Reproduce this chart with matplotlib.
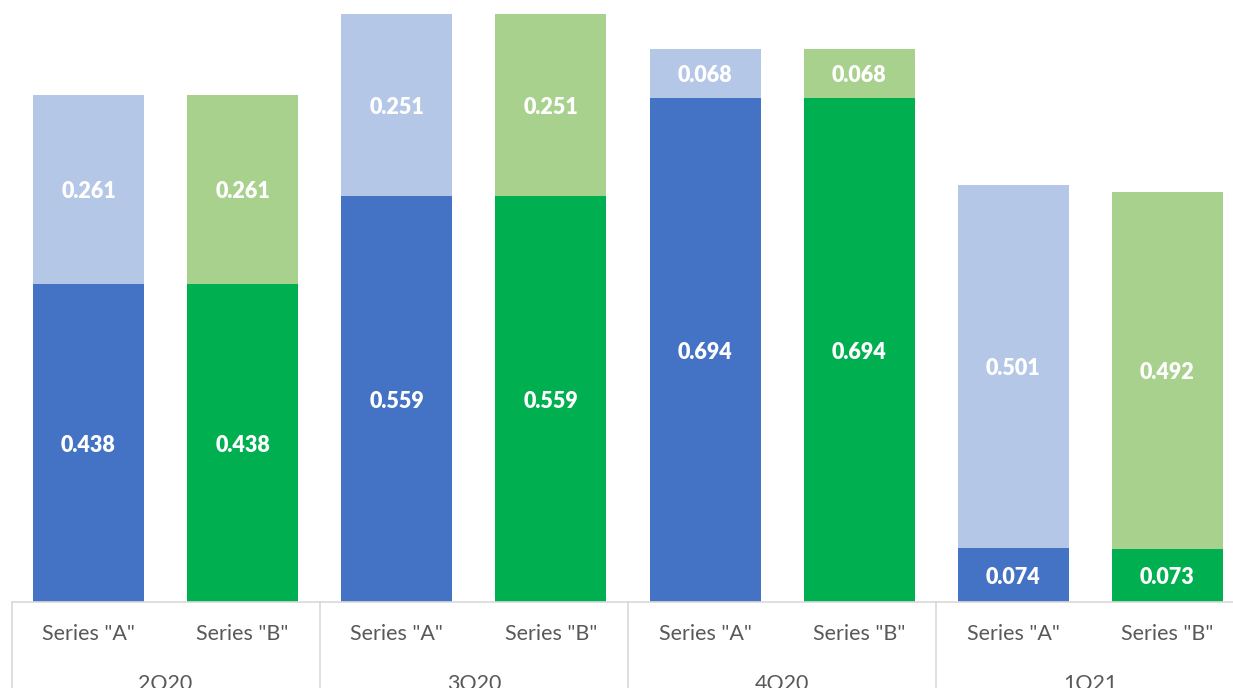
import matplotlib.pyplot as plt
import matplotlib.transforms as mtransforms

plt.rcParams["font.family"] = ["Lato", "DejaVu Sans"]

quarters = ["2Q20", "3Q20", "4Q20", "1Q21"]
series = ['Series "A"', 'Series "B"']
base_a = [0.438, 0.559, 0.694, 0.074]
top_a = [0.261, 0.251, 0.068, 0.501]
base_b = [0.438, 0.559, 0.694, 0.073]
top_b = [0.261, 0.251, 0.068, 0.492]

DARK = {"A": "#4472C4", "B": "#00B050"}
LIGHT = {"A": "#B4C7E7", "B": "#A9D18E"}
AXIS_GRAY = "#D9D9D9"
TEXT_GRAY = "#595959"

W, H = 1233, 688
fig = plt.figure(figsize=(W / 100, H / 100), dpi=100)
ax_left = 11.5 / W
ax_bottom = (H - 602) / H
ax = fig.add_axes([ax_left, ax_bottom, 1 - ax_left, 602 / H])

step = 154.14
ax.set_xlim(-0.5, 7.5 - 11.5 / step)
ax.set_ylim(0, 602 / 726)

width = 0.72
for qi in range(len(quarters)):
    for si, (key, base, top) in enumerate((("A", base_a, top_a), ("B", base_b, top_b))):
        x = qi * 2 + si
        b, t = base[qi], top[qi]
        ax.bar(x, b, width, color=DARK[key], linewidth=0)
        ax.bar(x, t, width, bottom=b, color=LIGHT[key], linewidth=0)
        for y, v in ((b / 2, b), (b + t / 2, t)):
            ax.text(x, y, f"{v:.3f}", ha="center", va="center_baseline",
                    color="white", fontsize=15.5, fontweight="heavy")

for s in ax.spines.values():
    s.set_visible(False)
ax.set_xticks([])
ax.set_yticks([])

trans = mtransforms.blended_transform_factory(ax.transData, ax.transAxes)
ax.plot([-0.5, 8], [0, 0], color=AXIS_GRAY, lw=1.2, transform=trans, clip_on=False)
for k in range(5):
    xb = -0.5 + 2 * k
    ax.plot([xb, xb], [0, -0.2], color=AXIS_GRAY, lw=1.2,
            transform=trans, clip_on=False)

for qi, q in enumerate(quarters):
    for si, s in enumerate(series):
        ax.text(qi * 2 + si, -0.0535, s, transform=trans, ha="center",
                va="center", fontsize=15.5, color=TEXT_GRAY)
    ax.text(qi * 2 + 0.5, -0.136, q, transform=trans, ha="center",
            va="center", fontsize=15.5, color=TEXT_GRAY)

fig.savefig("out.png", dpi=100)
